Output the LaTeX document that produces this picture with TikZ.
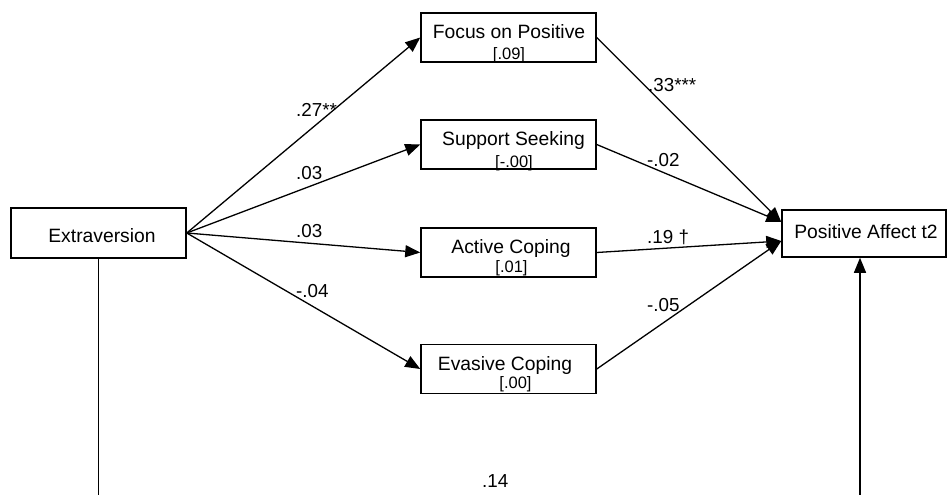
\documentclass[tikz,border=0pt]{standalone}
\usepackage{fontspec}
\setmainfont{Liberation Sans}
\usetikzlibrary{arrows.meta}
\tikzset{
  boxnode/.style={draw, line width=1.5pt, inner sep=0pt, minimum width=175pt, minimum height=49pt},
  titletext/.style={anchor=base, inner sep=0pt, font=\fontsize{19.3}{23}\selectfont},
  bracktext/.style={anchor=base, inner sep=0pt, font=\fontsize{16.5}{19}\selectfont},
  pathlabel/.style={anchor=base west, inner sep=0pt, font=\fontsize{18.8}{22}\selectfont},
  conn/.style={line width=1.3pt, -{Triangle[length=15pt,width=12pt]}},
  plainline/.style={line width=1.5pt}
}
\begin{document}
\begin{tikzpicture}[x=1pt,y=-1pt]
\useasboundingbox (0,0) rectangle (948,495);
% boxes
\node[boxnode, minimum height=50pt] (ext) at (98.5,233) {};
\node[boxnode] (fp) at (508.5,37.5) {};
\node[boxnode] (ss) at (508.5,144.5) {};
\node[boxnode] (ac) at (508.5,252.5) {};
\node[boxnode] (ev) at (508.5,369) {};
\node[boxnode, minimum width=164pt, minimum height=47pt] (pa) at (864,233.5) {};
% texts
\node[titletext] (extT) at (102,242.8) {Extraversion};
\node[titletext] (paT) at (866,238.5) {Positive Affect t2};
\node[titletext] (fpT) at (509,38.3) {Focus on Positive};
\node[bracktext] (fpB) at (509,59.3) {[.09]};
\node[titletext] (ssT) at (513.5,145.3) {Support Seeking};
\node[bracktext] (ssB) at (514,167) {[-.00]};
\node[titletext] (acT) at (511,253.3) {Active Coping};
\node[bracktext] (acB) at (511.5,272.7) {[.01]};
\node[titletext] (evT) at (505,370.3) {Evasive Coping};
\node[bracktext] (evB) at (515.5,388.5) {[.00]};
% connectors from Extraversion
\draw[conn] (ext.east) -- (fp.west);
\draw[conn] (ext.east) -- (ss.west);
\draw[conn] (ext.east) -- (ac.west);
\draw[conn] (ext.east) -- (ev.west);
% connectors to Positive Affect
\coordinate (paUp) at ([yshift=11.5pt]pa.west);
\coordinate (paLo) at ([yshift=-7.5pt]pa.west);
\draw[conn] (fp.east) -- (paUp);
\draw[conn] (ss.east) -- (paUp);
\draw[conn] (ac.east) -- (paLo);
\draw[conn] (ev.east) -- (paLo);
% bottom path (cropped)
\coordinate (bottomL) at (98.5,496);
\coordinate (bottomR) at (860,496);
\draw[plainline] (ext.south) -- (bottomL);
\draw[conn] (bottomR) -- (bottomR |- pa.south);
% path labels
\node[pathlabel] (l1) at (296,117) {.27**};
\node[pathlabel] (l2) at (296,179) {.03};
\node[pathlabel] (l3) at (296,237) {.03};
\node[pathlabel] (l4) at (296,297) {-.04};
\node[pathlabel] (r1) at (648,92) {.33***};
\node[pathlabel] (r2) at (647,166) {-.02};
\node[pathlabel] (r3) at (647,243) {.19 †};
\node[pathlabel] (r4) at (647,311) {-.05};
\node[pathlabel] (d1) at (482,487) {.14};
\end{tikzpicture}
\end{document}
